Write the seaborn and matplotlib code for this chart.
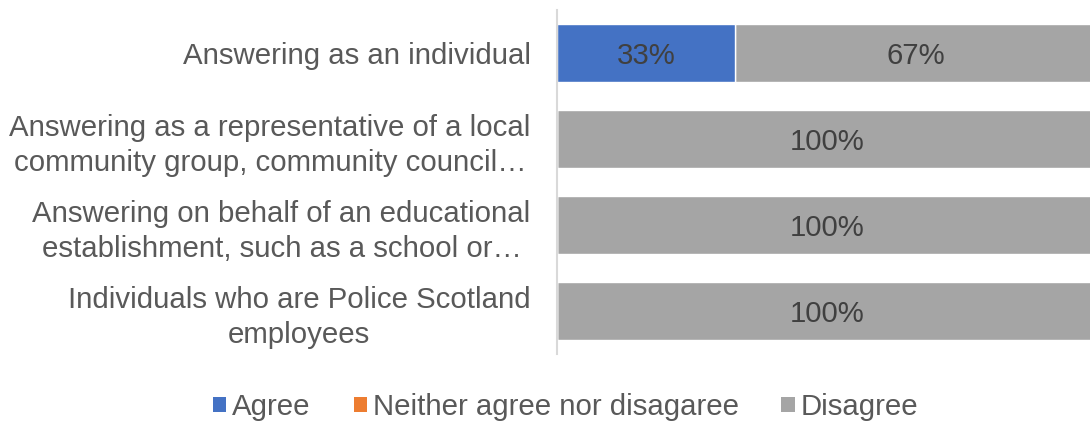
import numpy as np
import pandas as pd
import seaborn as sns
import matplotlib
matplotlib.use("Agg")
import matplotlib.pyplot as plt
from matplotlib.patches import Patch

categories = [
    "Answering as an individual",
    "Answering as a representative of a local\ncommunity group, community council\u2026",
    "Answering on behalf of an educational\nestablishment, such as a school or\u2026",
    "Individuals who are Police Scotland\nemployees",
]
series_names = ["Agree", "Neither agree nor disagaree", "Disagree"]
agree = [33, 0, 0, 0]
neither = [0, 0, 0, 0]
disagree = [67, 100, 100, 100]
colors = ["#4472C4", "#ED7D31", "#A5A5A5"]

sns.set_theme(style="white")
plt.rcParams["font.family"] = ["Liberation Sans", "DejaVu Sans"]

FS = 21.2

fig = plt.figure(figsize=(10.9, 4.23), dpi=100)
ax = fig.add_axes([557 / 1090, 1 - 354 / 423, (1097 - 557) / 1090, 344 / 423])

vals = np.array([agree, neither, disagree], dtype=float)
cum = np.cumsum(vals, axis=0)

# draw cumulative totals from the back to the front
for i in reversed(range(len(series_names))):
    df = pd.DataFrame({"category": categories, "value": cum[i]})
    sns.barplot(data=df, x="value", y="category", orient="h", color=colors[i],
                width=0.67, edgecolor="white", linewidth=1.0, saturation=1,
                ax=ax, order=categories)

# data labels
for i in range(len(series_names)):
    for j in range(len(categories)):
        v = vals[i, j]
        if v > 0:
            left = cum[i, j] - v
            ax.text(left + v / 2, j, f"{v:.0f}%", ha="center", va="center_baseline",
                    fontsize=FS, color="#404040")

ax.set_xlim(0, 100)
ax.set_ylim(3.5, -0.5)
ax.set_xlabel("")
ax.set_ylabel("")
ax.set_xticks([])
for s in ["top", "right", "bottom"]:
    ax.spines[s].set_visible(False)
ax.spines["left"].set_color("#d9d9d9")
ax.spines["left"].set_linewidth(1.5)
ax.tick_params(axis="y", length=0, pad=19)
ax.set_yticks(range(len(categories)))
ax.set_yticklabels(categories, fontsize=FS, color="#595959", multialignment="center",
                   linespacing=1.3)

handles = [Patch(facecolor=c, edgecolor="none") for c in colors]
leg = fig.legend(handles, series_names, loc="center", bbox_to_anchor=(0.519, 1 - 407 / 423),
                 ncol=3, frameon=False, fontsize=FS, handlelength=0.45, handleheight=0.45,
                 handletextpad=0.2, columnspacing=1.45, labelcolor="#595959")

fig.savefig("out.png", dpi=100)
